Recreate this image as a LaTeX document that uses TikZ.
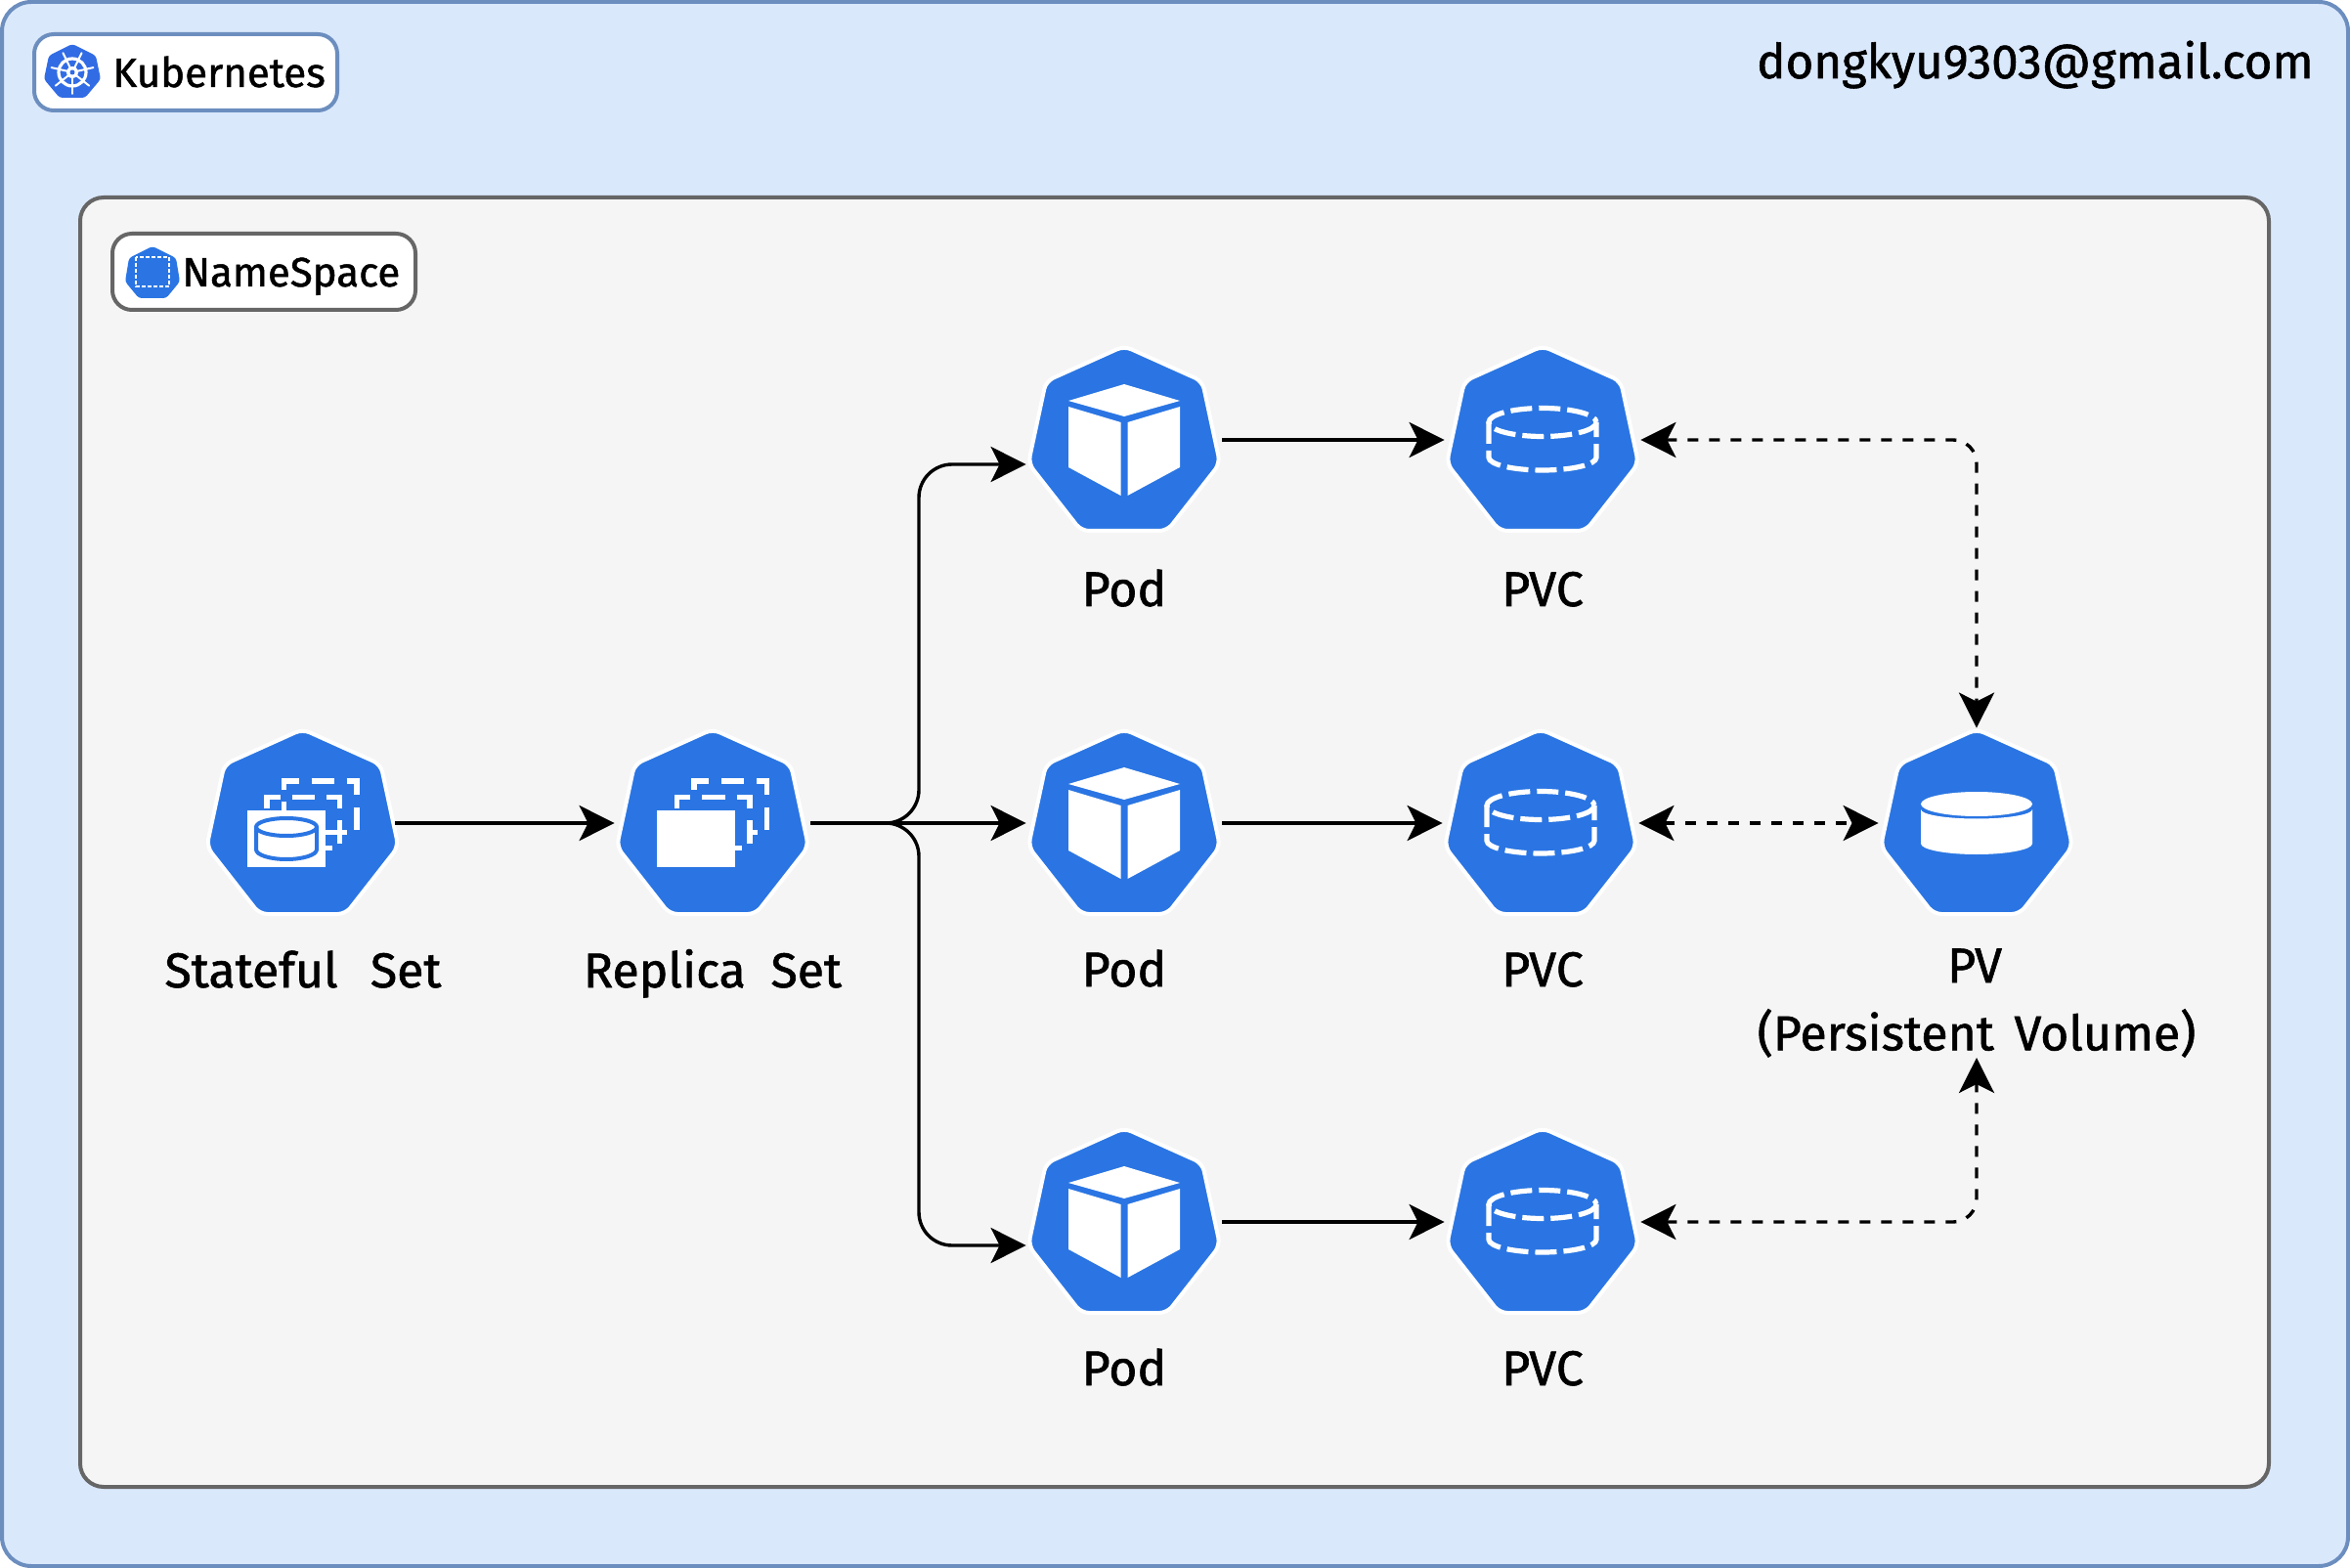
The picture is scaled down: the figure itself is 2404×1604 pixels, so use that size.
\documentclass[tikz,border=0pt]{standalone}
\usepackage{fontspec}
\setmainfont{Fira Sans}
\newfontfamily\heavyfont{Fira Sans}[RawFeature={embolden=1.2}]
\usetikzlibrary{arrows.meta}
\definecolor{kubeblue}{HTML}{2A75E3}
\definecolor{wheelblue}{HTML}{326CE5}
\definecolor{outerfill}{HTML}{DAE8FC}
\definecolor{outerline}{HTML}{6C8EBF}
\definecolor{innerfill}{HTML}{F5F5F5}
\definecolor{innerline}{HTML}{666666}
\tikzset{
  hept/.style={inner sep=0pt,minimum width=100pt,minimum height=97pt},
  txt/.style={inner sep=0pt,anchor=base,font=\heavyfont\fontsize{25}{32}\selectfont},
  tagtxt/.style={inner sep=0pt,anchor=base west,font=\heavyfont\fontsize{21}{25}\selectfont},
  tagbox/.style={line width=2pt,rounded corners=10pt,fill=white},
  flow/.style={line width=1.7pt,-{Stealth[length=18pt,width=18pt,inset=4.5pt]}},
  link/.style={line width=1.7pt,dash pattern=on 5.5pt off 5.5pt,
    {Stealth[length=18pt,width=18pt,inset=4.5pt]}-{Stealth[length=18pt,width=18pt,inset=4.5pt]}},
  dashw/.style={draw=white,line width=2.6pt},
  kube/.pic={
    \draw[fill=kubeblue,draw=white,line width=2pt,rounded corners=4pt]
      (0,-96) -- (80,-60) -- (98,24) -- (44,93) -- (-44,93) -- (-98,24) -- (-80,-60) -- cycle;
  },
  cube/.pic={
    \fill[white] (0,-57) -- (57,-40) -- (0,-24) -- (-57,-40) -- cycle;
    \fill[white] (-57,-34) -- (-3.5,-18) -- (-3.5,57) -- (-57,28) -- cycle;
    \fill[white] (57,-34) -- (3.5,-18) -- (3.5,57) -- (57,28) -- cycle;
  },
  claim/.pic={
    \draw[dashw,dash pattern=on 11pt off 3.5pt] (0,-18) ellipse [x radius=55,y radius=14.5];
    \draw[dashw,dash pattern=on 11pt off 3.5pt] (-55,-18) -- (-55,18) arc[start angle=180,end angle=0,x radius=55,y radius=13] -- (55,-18);
  },
  volume/.pic={
    \fill[white] (-57,-14) arc[start angle=180,end angle=0,x radius=57,y radius=9.5] -- (57,21)
      arc[start angle=0,end angle=180,x radius=57,y radius=11] -- cycle;
    \fill[white] (0,-19.5) ellipse [x radius=57,y radius=12.5];
  },
  stack/.pic={
    \draw[dashw] (-19,-34) -- (-19,-43) -- (-4,-43);
    \draw[dashw] (9,-43) -- (32,-43);
    \draw[dashw] (45,-43) -- (55.4,-43) -- (55.4,-29);
    \draw[dashw] (55.4,-16) -- (55.4,7);
    \draw[dashw] (-36.6,-15) -- (-36.6,-26.3) -- (-23,-26.3);
    \draw[dashw] (-11,-26.3) -- (12.5,-26.3);
    \draw[dashw] (24.5,-26.3) -- (38,-26.3) -- (38,-15);
    \draw[dashw] (38,-3) -- (38,21);
    \draw[dashw] (23,25.7) -- (30.4,25.7);
    \fill[white] (-57,-13) rectangle (23,44.7);
  }
}
\begin{document}
\begin{tikzpicture}[x=0.5pt,y=-0.5pt]
\useasboundingbox (0,0) rectangle (2404,1604);
% frames
\draw[fill=outerfill,draw=outerline,line width=2pt,rounded corners=15pt] (2,2) rectangle (2402,1602);
\draw[fill=innerfill,draw=innerline,line width=2pt,rounded corners=12pt] (82,202) rectangle (2321,1521);

% Kubernetes tag
\draw[tagbox,draw=outerline] (35,35) rectangle (345,113);
\fill[wheelblue,rounded corners=1.5pt] (74,45) -- (98,57) -- (103,81) -- (87,100) -- (61,100) -- (45,81) -- (50,57) -- cycle;
\draw[white,line width=1.6pt] (74,74) circle [radius=14];
\foreach \a in {90,141.4,192.9,244.3,295.7,347.1,398.6}
  \draw[white,line width=1pt,line cap=round] (74,74) -- ++(\a:22);
\fill[white] (74,74) circle [radius=6];
\fill[wheelblue] (74,74) circle [radius=2.5];
\node[tagtxt] (kubetag) at (115,89) {Kubernetes};

% NameSpace tag
\draw[tagbox,draw=innerline] (115,239) rectangle (425,317);
\fill[kubeblue,rounded corners=1.5pt] (156,252) -- (180,264) -- (184,288) -- (170,305) -- (142,305) -- (128,288) -- (132,264) -- cycle;
\draw[white,line width=0.8pt,dash pattern=on 2pt off 1pt] (139,263) rectangle (173,293);
\node[tagtxt] (nstag) at (186,293) {NameSpace};

\node[inner sep=0pt,anchor=base east,font=\heavyfont\fontsize{24.6}{28}\selectfont] (mail) at (2367,80) {dongkyu9303@gmail.com};

% icons
\node[hept] (stateful) at (309.5,842) {};
\node[hept] (replica) at (729,842) {};
\node[hept] (podone) at (1150,450) {};
\node[hept] (podtwo) at (1150,842) {};
\node[hept] (podthree) at (1150,1250) {};
\node[hept] (pvcone) at (1578,450) {};
\node[hept] (pvctwo) at (1576,842) {};
\node[hept] (pvcthree) at (1578,1250) {};
\node[hept] (pv) at (2022,842) {};

\pic at (309.5,842) {kube};
\pic at (309.5,842) {stack};
\pic at (729,842) {kube};
\pic at (729,842) {stack};
\pic at (1150,450) {kube};
\pic at (1150,450) {cube};
\pic at (1150,842) {kube};
\pic at (1150,842) {cube};
\pic at (1150,1250) {kube};
\pic at (1150,1250) {cube};
\pic at (1578,450) {kube};
\pic at (1578,450) {claim};
\pic at (1576,842) {kube};
\pic at (1576,842) {claim};
\pic at (1578,1250) {kube};
\pic at (1578,1250) {claim};
\pic at (2022,842) {kube};
\pic at (2022,842) {volume};

% extras of the stateful icon
\draw[dashw] (290.3,820) -- (290.3,829);
\draw[dashw] (332.5,851.7) -- (355,851.7);
\draw[kubeblue,line width=2pt,fill=white] (293,846) ellipse [x radius=31,y radius=9];
\draw[kubeblue,line width=2pt] (262,846) -- (262,869) arc[start angle=180,end angle=0,x radius=31,y radius=10] -- (324,846);
% small tick of the replica icon
\draw[dashw] (770,851.7) -- (774.5,851.7);

% labels
\node[txt] (statefultxt) at (310,1010) {Stateful\hspace{0.4em} Set};
\node[txt] (replicatxt) at (729,1010) {Replica\hspace{0.25em} Set};
\node[txt] (podonetxt) at (1150,620) {Pod};
\node[txt] (podtwotxt) at (1150,1009) {Pod};
\node[txt] (podthreetxt) at (1150,1417) {Pod};
\node[txt] (pvconetxt) at (1578,620) {PVC};
\node[txt] (pvctwotxt) at (1578,1009) {PVC};
\node[txt] (pvcthreetxt) at (1578,1417) {PVC};
\node[txt] (pvtxt) at (2020,1005) {PV};
\node[txt,anchor=south] (pvlong) at (2022,1082) {(Persistent\hspace{0.15em} Volume)};

% connectors
\coordinate (fork) at (940,842);
\draw[flow,shorten <=-3pt] (stateful.east) -- (replica.west);
\draw[flow,rounded corners=17pt] (replica.east) -- (fork) |- ([yshift=-12.5pt]podone.west);
\draw[flow,rounded corners=17pt] (replica.east) -- (fork) |- ([yshift=-12pt]podthree.west);
\draw[flow] (replica.east) -- (podtwo.west);
\draw[flow] (podone.east) -- (pvcone.west);
\draw[flow] (podtwo.east) -- (pvctwo.west);
\draw[flow] (podthree.east) -- (pvcthree.west);
\draw[link,rounded corners=12pt] (pvcone.east) -| (pv.north);
\draw[link] (pvctwo.east) -- (pv.west);
\draw[link,rounded corners=12pt] (pvcthree.east) -| (pvlong.south);
\end{tikzpicture}
\end{document}
